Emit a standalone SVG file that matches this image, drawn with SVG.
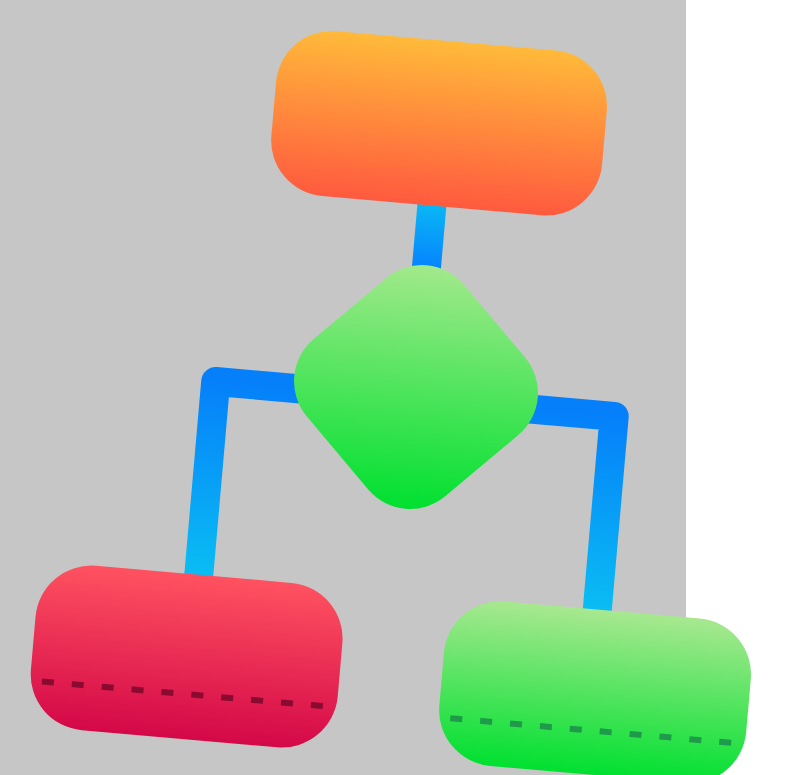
<svg xmlns="http://www.w3.org/2000/svg" width="789" height="775" viewBox="0 0 789 775">
  <style>
    .conn { fill: none; stroke-width: 29; stroke-linejoin: round; stroke-linecap: butt; }
    .dash { fill: none; stroke-width: 6; stroke-dasharray: 12 18; }
  </style>
  <defs>
    <linearGradient id="gTop" x1="0" y1="0" x2="0" y2="1">
      <stop offset="0" stop-color="#FFBA3A"/>
      <stop offset="1" stop-color="#FF5A3F"/>
    </linearGradient>
    <linearGradient id="gRed" x1="0" y1="0" x2="0" y2="1">
      <stop offset="0" stop-color="#FF5260"/>
      <stop offset="1" stop-color="#D40848"/>
    </linearGradient>
    <linearGradient id="gGreen" x1="0" y1="0" x2="0" y2="1">
      <stop offset="0" stop-color="#A8E890"/>
      <stop offset="1" stop-color="#00E030"/>
    </linearGradient>
    <linearGradient id="gDiamond" x1="0" y1="0" x2="0" y2="1">
      <stop offset="0" stop-color="#A2E98B"/>
      <stop offset="1" stop-color="#00E030"/>
    </linearGradient>
    <linearGradient id="gConnTop" gradientUnits="userSpaceOnUse" x1="0" y1="205" x2="0" y2="270">
      <stop offset="0" stop-color="#0AB6F5"/>
      <stop offset="1" stop-color="#0582FF"/>
    </linearGradient>
    <linearGradient id="gConnSide" gradientUnits="userSpaceOnUse" x1="0" y1="399" x2="0" y2="593">
      <stop offset="0" stop-color="#0580FA"/>
      <stop offset="1" stop-color="#0ABDF3"/>
    </linearGradient>
  </defs>
  <rect x="0" y="0" width="686" height="775" fill="#C6C6C6"/>
  <g transform="rotate(5 416 387)">
    <g id="connectors">
      <path class="conn" d="M 416 200 V 270" stroke="url(#gConnTop)"/>
      <path class="conn" d="M 416 399 H 216 V 600" stroke="url(#gConnSide)"/>
      <path class="conn" d="M 416 399 H 616 V 600" stroke="url(#gConnSide)"/>
    </g>
    <g id="start">
      <rect x="250" y="39.5" width="332" height="165.5" rx="56" fill="url(#gTop)"/>
    </g>
    <g id="decision">
      <path d="M 454.89,280.89 L 522.11,348.11 A 55 55 0 0 1 522.11,425.89 L 454.89,493.11 A 55 55 0 0 1 377.11,493.11 L 309.89,425.89 A 55 55 0 0 1 309.89,348.11 L 377.11,280.89 A 55 55 0 0 1 454.89,280.89 Z" fill="url(#gDiamond)"/>
    </g>
    <g id="left">
      <rect x="57" y="593" width="308" height="165" rx="56" fill="url(#gRed)"/>
      <path class="dash" d="M 69 713 H 351" stroke="#8A0A30"/>
    </g>
    <g id="right">
      <rect x="467" y="593" width="308" height="165" rx="56" fill="url(#gGreen)"/>
      <path class="dash" d="M 479 714 H 761" stroke="#1E9A4A"/>
    </g>
  </g>
</svg>
